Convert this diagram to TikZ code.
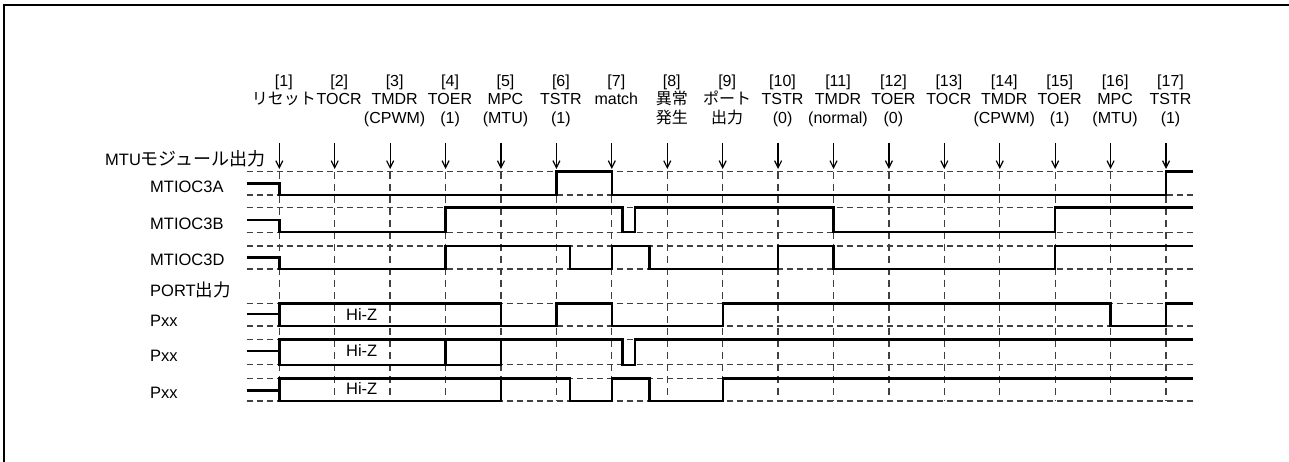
\documentclass[tikz,border=0pt]{standalone}
\usepackage{fontspec}
\setmainfont{Liberation Sans}
\newfontfamily\jp{Noto Sans CJK JP}
\usetikzlibrary{arrows.meta}
\tikzset{
  wave/.style={line width=2.4pt, line join=miter},
  hgrid/.style={line width=1.3pt, draw=black!75, dash pattern=on 6pt off 4pt},
  vgrid/.style={line width=1.3pt, draw=black!75, dash pattern=on 7pt off 5pt},
  evarrow/.style={line width=1.2pt, -{Straight Barb[length=7pt,width=7pt]}},
  toplab/.style={anchor=base, inner sep=0pt, font=\fontsize{16}{19}\selectfont},
  sidelab/.style={anchor=base west, inner sep=0pt, font=\fontsize{16.5}{20}\selectfont},
  hizlab/.style={anchor=base, inner sep=0pt, font=\fontsize{16.5}{20}\selectfont},
  frame/.style={line width=2.2pt}
}
\begin{document}
\begin{tikzpicture}[x=1pt,y=-1pt]
\useasboundingbox (0,0) rectangle (1289,462);
% frame
\draw[frame] (4,462) -- (4,5) -- (1289,5);

% event labels, arrows, vertical grid
\foreach \i/\la/\lb in {1/{\jp リセット}/{},2/TOCR/{},3/TMDR/(CPWM),4/TOER/(1),5/MPC/(MTU),
  6/TSTR/(1),7/match/{},8/{\jp 異常}/{\jp 発生},9/{\jp ポート}/{\jp 出力},10/TSTR/(0),
  11/TMDR/(normal),12/TOER/(0),13/TOCR/{},14/TMDR/(CPWM),15/TOER/(1),16/MPC/(MTU),17/TSTR/(1)}{
  \pgfmathsetmacro\xx{279.3+55.42*(\i-1)}
  \pgfmathsetmacro\xl{\xx+4.5}
  \node[toplab] (n\i) at (\xl,86.5) {[\i]};
  \node[toplab] (m\i) at (\xl,105) {\la};
  \node[toplab] (k\i) at (\xl,124) {\lb};
  \coordinate (a\i) at (\xx,143);
  \coordinate (b\i) at (\xx,169);
  \coordinate (g\i) at (\xx,171.7);
  \coordinate (h\i) at (\xx,401);
  \draw[evarrow] (a\i) -- (b\i);
  \draw[vgrid] (g\i) -- (h\i);
}

% horizontal grid lines
\foreach \yy in {171.7,195,207.7,232.3,246,269,303.3,326,339.3,364.7,378.3,401}{
  \draw[hgrid] (246.7,\yy) -- (1193,\yy);
}

% side labels
\node[sidelab] (lmtu) at (105,166) {MTU{\jp\fontsize{18}{20}\selectfont モジュール出力}};
\node[sidelab] (la) at (150,192.7) {MTIOC3A};
\node[sidelab] (lb) at (150,229.3) {MTIOC3B};
\node[sidelab] (ld) at (150,265.7) {MTIOC3D};
\node[sidelab] (lport) at (150,296.5) {PORT{\jp\fontsize{17.5}{20}\selectfont 出力}};
\node[sidelab] (lp1) at (150,326.7) {Pxx};
\node[sidelab] (lp2) at (150,361) {Pxx};
\node[sidelab] (lp3) at (150,398.3) {Pxx};

% waveforms
\draw[wave] (246.7,183.4) -- (279.3,183.4) -- (279.3,195) -- (556.4,195) -- (556.4,171.7)
  -- (611.8,171.7) -- (611.8,195) -- (1166,195) -- (1166,171.7) -- (1193,171.7);
\draw[wave] (246.7,220) -- (279.3,220) -- (279.3,232.3) -- (445.6,232.3) -- (445.6,207.7)
  -- (622.3,207.7) -- (622.3,232.3) -- (635,232.3) -- (635,207.7) -- (833.5,207.7)
  -- (833.5,232.3) -- (1055.2,232.3) -- (1055.2,207.7) -- (1193,207.7);
\draw[wave] (246.7,257.5) -- (279.3,257.5) -- (279.3,269) -- (445.6,269) -- (445.6,246)
  -- (570,246) -- (570,269) -- (611.8,269) -- (611.8,246) -- (649.3,246) -- (649.3,269)
  -- (778.1,269) -- (778.1,246) -- (833.5,246) -- (833.5,269) -- (1055.2,269)
  -- (1055.2,246) -- (1193,246);
% Pxx 1
\draw[wave] (246.7,314) -- (279.3,314);
\draw[wave] (279.3,303.3) rectangle (501,326);
\draw[wave] (501,326) -- (556.4,326) -- (556.4,303.3) -- (611.8,303.3) -- (611.8,326)
  -- (722.7,326) -- (722.7,303.3) -- (1110.6,303.3) -- (1110.6,326) -- (1166,326)
  -- (1166,303.3) -- (1193,303.3);
% Pxx 2
\draw[wave] (246.7,351) -- (279.3,351);
\draw[wave] (279.3,339.3) rectangle (501,364.7);
\draw[wave] (445.6,339.3) -- (445.6,364.7);
\draw[wave] (501,339.3) -- (622.3,339.3) -- (622.3,364.7) -- (635,364.7) -- (635,339.3)
  -- (1193,339.3);
% Pxx 3
\draw[wave] (246.7,390.5) -- (279.3,390.5);
\draw[wave] (279.3,378.3) rectangle (501,401);
\draw[wave] (501,378.3) -- (570,378.3) -- (570,401) -- (611.8,401) -- (611.8,378.3)
  -- (649.3,378.3) -- (649.3,401) -- (722.7,401) -- (722.7,378.3) -- (1193,378.3);

% Hi-Z labels
\node[hizlab] (hz1) at (361.7,320) {Hi-Z};
\node[hizlab] (hz2) at (361.7,356.7) {Hi-Z};
\node[hizlab] (hz3) at (361.7,394.3) {Hi-Z};
\end{tikzpicture}
\end{document}
